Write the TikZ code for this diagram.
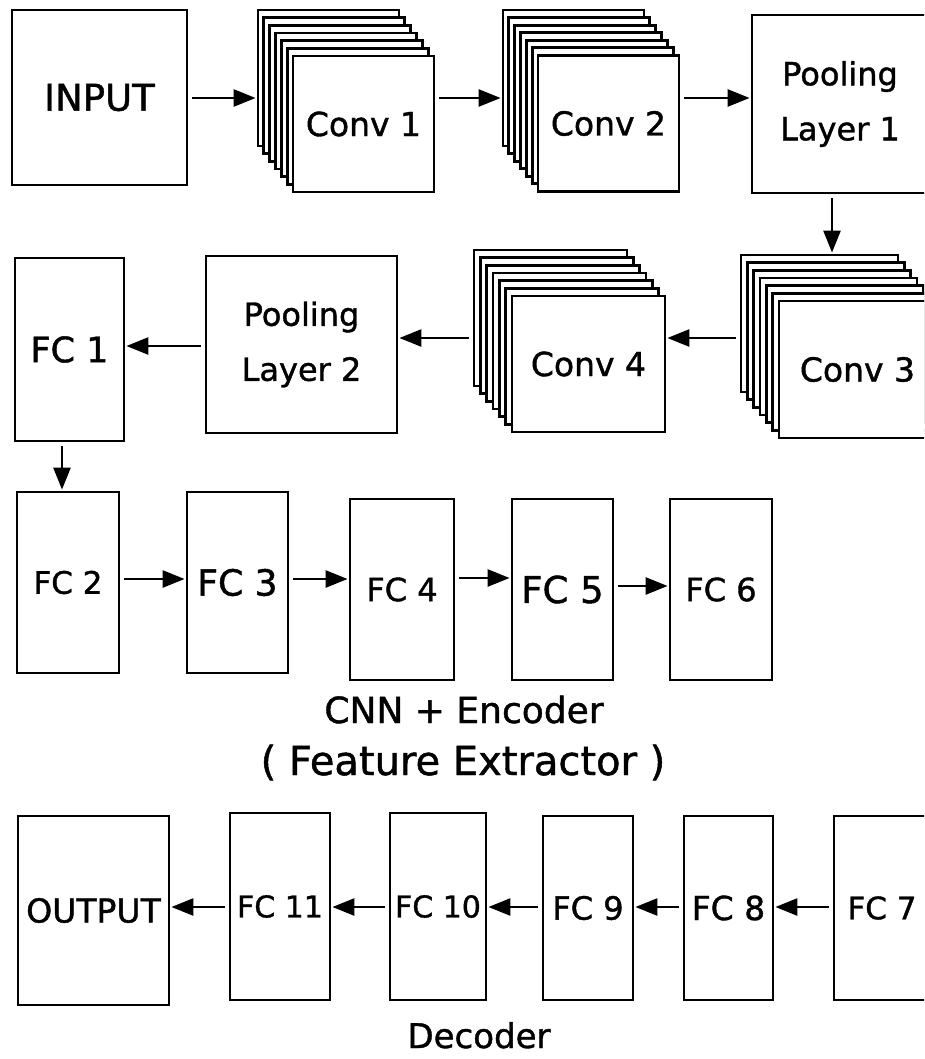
\documentclass[tikz,border=0pt]{standalone}
\usepackage{fontspec}
\setmainfont{DejaVu Sans}[FakeBold=1.2]
\usetikzlibrary{arrows.meta}
\newcommand{\fs}[1]{\fontsize{#1pt}{#1pt}\selectfont}
\newcommand{\fsl}[2]{\fontsize{#1pt}{#2pt}\selectfont}
\tikzset{
  blk/.style={draw=black, line width=2.8pt, fill=white, inner sep=0pt, align=center},
  arr/.style={line width=2.6pt, -{Triangle[length=22pt,width=17pt]}, shorten <=4pt, shorten >=1pt},
  lbl/.style={anchor=base, inner sep=0pt},
}
% #1 name, #2 back x, #3 back y, #4 dx, #5 dy, #6 w, #7 h, #8 text, #9 font size
\newcommand{\stackbox}[9]{%
  \foreach \i in {0,...,5}{%
    \node[blk,minimum width=#6pt,minimum height=#7pt] (#1b\i) at ({#2+#4*\i+#6/2},{#3+#5*\i+#7/2}) {};}
  \node[blk,minimum width=#6pt,minimum height=#7pt,font=\fs{#9}] (#1) at ({#2+6*#4+#6/2},{#3+6*#5+#7/2}) {#8};}
\begin{document}
\begin{tikzpicture}[x=1pt,y=-1pt]
\clip (0,0) rectangle (924,1059);
\fill[white] (0,0) rectangle (924,1059);

% row 1
\node[blk,minimum width=175pt,minimum height=175pt,font=\fs{37}] (inp) at (99.5,97.5) {INPUT};
\stackbox{conv1}{258}{10}{5.83}{7.67}{141}{136}{Conv 1}{33}
\stackbox{conv2}{503}{10}{5.83}{7.58}{141}{136}{Conv 2}{33}
\node[blk,minimum width=176pt,minimum height=178pt,font=\fsl{32}{55}] (pl1) at (840,104) {Pooling\\Layer 1};

% row 2
\stackbox{conv3}{741}{255}{6.33}{7.67}{157}{137}{Conv 3}{33}
\stackbox{conv4}{474}{250}{6.33}{7.67}{153}{136}{Conv 4}{33}
\node[blk,minimum width=191pt,minimum height=177pt,font=\fsl{32}{55}] (pl2) at (301.5,344.5) {Pooling\\Layer 2};
\node[blk,minimum width=109pt,minimum height=183pt,font=\fs{35}] (fc1) at (69.5,349.5) {FC 1};

% row 3
\node[blk,minimum width=102pt,minimum height=181pt,font=\fs{31}] (fc2) at (68,582.5) {FC 2};
\node[blk,minimum width=101pt,minimum height=181pt,font=\fs{36}] (fc3) at (237.5,582.5) {FC 3};
\node[blk,minimum width=104pt,minimum height=181pt,font=\fs{32}] (fc4) at (402,589.5) {FC 4};
\node[blk,minimum width=101pt,minimum height=181pt,font=\fs{37}] (fc5) at (562.5,589.5) {FC 5};
\node[blk,minimum width=102pt,minimum height=181pt,font=\fs{32}] (fc6) at (721,589.5) {FC 6};
\node[lbl,font=\fs{36}] (enc) at (464,723) {CNN + Encoder};
\node[lbl,font=\fs{40}] (fe) at (463,775) {( Feature Extractor )};

% row 4
\node[blk,minimum width=151pt,minimum height=189pt,font=\fs{33}] (out) at (93.5,910.5) {OUTPUT};
\node[blk,minimum width=100pt,minimum height=187pt,font=\fs{30}] (fc11) at (280,906.5) {FC 11};
\node[blk,minimum width=96pt,minimum height=187pt,font=\fs{30}] (fc10) at (438,906.5) {FC 10};
\node[blk,minimum width=90pt,minimum height=184pt,font=\fs{32}] (fc9) at (588,908) {FC 9};
\node[blk,minimum width=89pt,minimum height=184pt,font=\fs{33}] (fc8) at (728.5,908) {FC 8};
\node[blk,minimum width=96pt,minimum height=184pt,font=\fs{31}] (fc7) at (882,908) {FC 7};
\node[lbl,font=\fs{34}] (dec) at (479,1048) {Decoder};

% arrow levels
\coordinate (r1) at (0,98);
\coordinate (r2a) at (0,338);
\coordinate (r2b) at (0,346);
\coordinate (r3a) at (0,579);
\coordinate (r3b) at (0,578);
\coordinate (r3c) at (0,586);
\coordinate (r4) at (0,907);
\coordinate (v1) at (832,0);
\coordinate (v2) at (62,0);

\draw[arr] (inp.east |- r1) -- (conv1b0.west |- r1);
\draw[arr] (conv1.east |- r1) -- (conv2b0.west |- r1);
\draw[arr] (conv2.east |- r1) -- (pl1.west |- r1);
\draw[arr] (pl1.south -| v1) -- (conv3b0.north -| v1);
\draw[arr] (conv3b0.west |- r2a) -- (conv4.east |- r2a);
\draw[arr] (conv4b0.west |- r2a) -- (pl2.east |- r2a);
\draw[arr] (pl2.west |- r2b) -- (fc1.east |- r2b);
\draw[arr] (fc1.south -| v2) -- (fc2.north -| v2);
\draw[arr] (fc2.east |- r3a) -- (fc3.west |- r3a);
\draw[arr] (fc3.east |- r3a) -- (fc4.west |- r3a);
\draw[arr] (fc4.east |- r3b) -- (fc5.west |- r3b);
\draw[arr] (fc5.east |- r3c) -- (fc6.west |- r3c);
\draw[arr] (fc7.west |- r4) -- (fc8.east |- r4);
\draw[arr] (fc8.west |- r4) -- (fc9.east |- r4);
\draw[arr] (fc9.west |- r4) -- (fc10.east |- r4);
\draw[arr] (fc10.west |- r4) -- (fc11.east |- r4);
\draw[arr] (fc11.west |- r4) -- (out.east |- r4);
\end{tikzpicture}
\end{document}
